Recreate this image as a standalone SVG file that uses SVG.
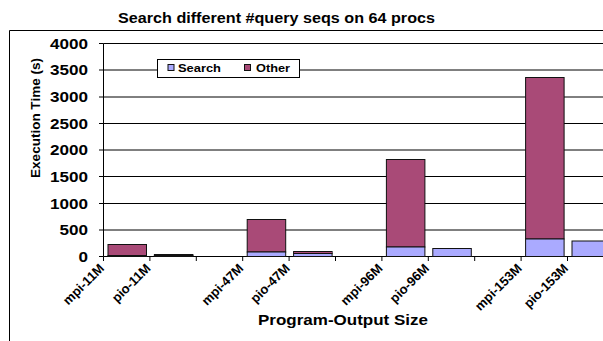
<svg xmlns="http://www.w3.org/2000/svg" width="603" height="341" viewBox="0 0 603 341">
<style>
text{font-family:"Liberation Sans",Arial,sans-serif;font-weight:bold;fill:#000}
.grid{stroke:#000;stroke-width:1;fill:none}
.ax{stroke:#000;stroke-width:1;fill:none}
.s{fill:#aaaaff;stroke:#111;stroke-width:1}
.o{fill:#a94a77;stroke:#111;stroke-width:1}
.yl{font-size:14px;text-anchor:end}
.xl{font-size:13px;text-anchor:end}
.lg{font-size:10.5px}
</style>
<rect x="0" y="0" width="603" height="341" fill="#fff"/>
<path d="M9.5 341V30.5H603" class="ax"/>
<text x="118" y="22.5" font-size="15.5" textLength="317" lengthAdjust="spacingAndGlyphs">Search different #query seqs on 64 procs</text>
<g id="gridlines">
<path class="grid" d="M103.5 43.5H603M103.5 70H603M103.5 97H603M103.5 123.5H603M103.5 150H603M103.5 176.5H603M103.5 203.5H603M103.5 230H603"/>
</g>
<g id="axes">
<path class="ax" d="M103.5 43.5V256.5H603"/>
<path class="ax" d="M99 43.5H103.5M99 70H103.5M99 97H103.5M99 123.5H103.5M99 150H103.5M99 176.5H103.5M99 203.5H103.5M99 230H103.5M99 256.5H103.5"/>
<path class="ax" d="M103.5 256.5V261M149.9 256.5V261M196.3 256.5V261M242.7 256.5V261M289.1 256.5V261M335.5 256.5V261M381.9 256.5V261M428.3 256.5V261M474.7 256.5V261M521.1 256.5V261M567.5 256.5V261"/>
<g id="ylabels">
<text class="yl" x="88" y="48.5" textLength="38" lengthAdjust="spacingAndGlyphs">4000</text>
<text class="yl" x="88" y="75" textLength="38" lengthAdjust="spacingAndGlyphs">3500</text>
<text class="yl" x="88" y="102" textLength="38" lengthAdjust="spacingAndGlyphs">3000</text>
<text class="yl" x="88" y="128.5" textLength="38" lengthAdjust="spacingAndGlyphs">2500</text>
<text class="yl" x="88" y="155" textLength="38" lengthAdjust="spacingAndGlyphs">2000</text>
<text class="yl" x="88" y="181.5" textLength="38" lengthAdjust="spacingAndGlyphs">1500</text>
<text class="yl" x="88" y="208.5" textLength="38" lengthAdjust="spacingAndGlyphs">1000</text>
<text class="yl" x="88" y="235" textLength="28.5" lengthAdjust="spacingAndGlyphs">500</text>
<text class="yl" x="88" y="261.5" textLength="9.5" lengthAdjust="spacingAndGlyphs">0</text>
</g>
<text x="39.5" y="118" font-size="13.5" text-anchor="middle" transform="rotate(-90 39.5 118)">Execution Time (s)</text>
<text x="258" y="324.5" font-size="14.5" textLength="170" lengthAdjust="spacingAndGlyphs">Program-Output Size</text>
</g>
<g id="bar-mpi-11M">
<rect class="o" x="108" y="244.5" width="38.5" height="11"/>
<rect class="s" x="108" y="255.5" width="38.5" height="1"/>
<text class="xl" x="105" y="269" transform="rotate(-45 105 269)">mpi-11M</text>
</g>
<g id="bar-pio-11M">
<rect class="o" x="154.4" y="254.5" width="38.5" height="1"/>
<rect class="s" x="154.4" y="255.5" width="38.5" height="1"/>
<text class="xl" x="151.4" y="269" transform="rotate(-45 151.4 269)">pio-11M</text>
</g>
<g id="bar-mpi-47M">
<rect class="o" x="247.2" y="219.5" width="38.5" height="32.5"/>
<rect class="s" x="247.2" y="252" width="38.5" height="4.5"/>
<text class="xl" x="244.2" y="269" transform="rotate(-45 244.2 269)">mpi-47M</text>
</g>
<g id="bar-pio-47M">
<rect class="o" x="293.6" y="251.5" width="38.5" height="2"/>
<rect class="s" x="293.6" y="253.5" width="38.5" height="3"/>
<text class="xl" x="290.6" y="269" transform="rotate(-45 290.6 269)">pio-47M</text>
</g>
<g id="bar-mpi-96M">
<rect class="o" x="386.4" y="159.5" width="38.5" height="87.5"/>
<rect class="s" x="386.4" y="247" width="38.5" height="9.5"/>
<text class="xl" x="383.4" y="269" transform="rotate(-45 383.4 269)">mpi-96M</text>
</g>
<g id="bar-pio-96M">
<rect class="s" x="432.8" y="248.5" width="38.5" height="8"/>
<text class="xl" x="429.8" y="269" transform="rotate(-45 429.8 269)">pio-96M</text>
</g>
<g id="bar-mpi-153M">
<rect class="o" x="525.6" y="77.5" width="38.5" height="161.5"/>
<rect class="s" x="525.6" y="239" width="38.5" height="17.5"/>
<text class="xl" x="522.6" y="269" transform="rotate(-45 522.6 269)">mpi-153M</text>
</g>
<g id="bar-pio-153M">
<rect class="s" x="572" y="241" width="38.5" height="15.5"/>
<text class="xl" x="569" y="269" transform="rotate(-45 569 269)">pio-153M</text>
</g>
<g id="legend">
<rect x="157.5" y="59.5" width="142" height="18" fill="#fff" stroke="#000"/>
<rect class="s" x="168" y="64.5" width="6" height="6"/>
<text class="lg" x="178" y="72" textLength="43" lengthAdjust="spacingAndGlyphs">Search</text>
<rect class="o" x="244.5" y="64.5" width="6" height="6"/>
<text class="lg" x="256" y="72" textLength="34" lengthAdjust="spacingAndGlyphs">Other</text>
</g>
</svg>
